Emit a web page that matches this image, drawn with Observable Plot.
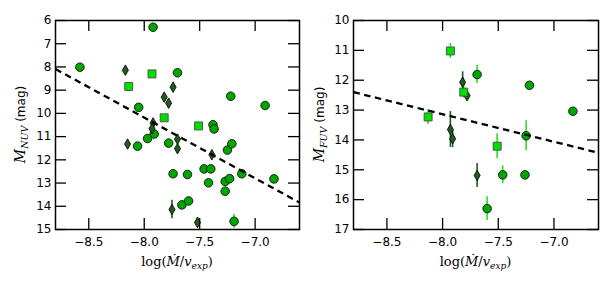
<!DOCTYPE html>
<html>
<head>
<meta charset="utf-8">
<script src="https://cdn.jsdelivr.net/npm/d3@7"></script>
<script src="https://cdn.jsdelivr.net/npm/@observablehq/plot@0.6"></script>
<style>
  html, body { margin: 0; padding: 0; background: #fff; }
  #chart { display: flex; width: 612px; height: 288px; }
  #chart svg { display: block; }
</style>
</head>
<body>
<div id="chart"></div>
<script>
// ---------- shared axis data ----------
const xDomain = [-8.8, -6.6];
const xTicks = [-8.5, -8.0, -7.5, -7.0];
const nuvTicks = [6, 7, 8, 9, 10, 11, 12, 13, 14, 15];
const fuvTicks = [10, 11, 12, 13, 14, 15, 16, 17];

// ---------- left panel: M_NUV ----------
const nuvCircX = [-7.92, -8.58, -7.70, -8.05, -7.22, -6.91, -7.38, -7.37, -7.97, -7.91, -8.06, -7.78, -7.25, -7.21,
                  -7.74, -7.61, -7.46, -7.40, -7.42, -7.27, -7.23, -7.27, -7.12, -6.83, -7.66, -7.60, -7.19];
const nuvCircY = [6.29, 8.01, 8.25, 9.74, 9.26, 9.66, 10.49, 10.67, 11.08, 10.89, 11.41, 11.28, 11.58, 11.31,
                  12.60, 12.63, 12.39, 12.39, 12.99, 12.93, 12.81, 13.35, 12.60, 12.82, 13.94, 13.77, 14.65];
const nuvCircErr = [0, 0, 0, 0, 0, 0, 0, 0, 0, 0, 0, 0, 0, 0,
                    0, 0, 0, 0, 0, 0, 0, 0, 0, 0, 0, 0, 0.3];

const nuvDiamX = [-8.17, -7.74, -7.82, -7.78, -7.92, -7.93, -7.70, -8.15, -7.70, -7.39, -7.75, -7.52];
const nuvDiamY = [8.14, 8.87, 9.30, 9.56, 10.41, 10.66, 11.11, 11.32, 11.52, 11.78, 14.14, 14.70];
const nuvDiamErr = [0, 0, 0, 0, 0.15, 0, 0, 0, 0, 0, 0.4, 0.2];

const nuvSqX = [-8.14, -7.93, -7.82, -7.51];
const nuvSqY = [8.84, 8.30, 10.19, 10.54];
const nuvSqErr = [0, 0, 0, 0];

const fitX = [-8.8, -6.6];
const nuvFitY = [8.09, 13.84];

// ---------- right panel: M_FUV ----------
const fuvCircX = [-7.69, -7.22, -6.83, -7.25, -7.46, -7.26, -7.60];
const fuvCircY = [11.81, 12.17, 13.04, 13.86, 15.17, 15.17, 16.30];
const fuvCircErr = [0.3, 0, 0, 0.5, 0.3, 0, 0.4];

const fuvDiamX = [-7.82, -7.78, -7.93, -7.91, -7.69];
const fuvDiamY = [12.07, 12.52, 13.65, 13.96, 15.19];
const fuvDiamErr = [0.35, 0.1, 0.6, 0.3, 0.4];

const fuvSqX = [-7.93, -7.81, -8.13, -7.51];
const fuvSqY = [11.02, 12.40, 13.23, 14.21];
const fuvSqErr = [0.25, 0.2, 0.25, 0.42];

const fuvFitY = [12.40, 14.43];

// ---------- styles ----------
const circleFill = "#00a600";
const diamondFill = "#1d5c1d";
const squareFill = "#00e000";
const errLight = "#2fd92f";
const errDark = "#1d5c1d";

const rows = (xs, ys, es) => xs.map((x, i) => ({x, y: ys[i], e: es[i]}));

function panel(o) {
  const W = 306, H = 288, mt = 20, mb = 59;
  const fw = W - o.ml - o.mr, fh = H - mt - mb, tick = 11;
  const circles = rows(o.cx, o.cy, o.ce);
  const diamonds = rows(o.dx, o.dy, o.de);
  const squares = rows(o.sx, o.sy, o.se);
  const fit = o.fitX.map((x, i) => ({x, y: o.fitY[i]}));
  const err = (rs, color) => Plot.ruleX(rs.filter(d => d.e > 0), {
    x: "x", y1: d => d.y - d.e, y2: d => d.y + d.e, stroke: color, strokeWidth: 1.6
  });
  const tickStyle = {stroke: "#000", strokeWidth: 1.3};
  const svg = Plot.plot({
    width: W, height: H,
    marginTop: mt, marginBottom: mb, marginLeft: o.ml, marginRight: o.mr,
    style: {fontFamily: "'DejaVu Sans', sans-serif", fontSize: "12px", color: "#000", background: "transparent", overflow: "visible"},
    x: {domain: xDomain, label: null},
    y: {domain: o.yDomain, reverse: true, label: null},
    marks: [
      err(circles, errLight),
      err(squares, errLight),
      err(diamonds, errDark),
      Plot.dot(circles, {x: "x", y: "y", symbol: "circle", r: 4.3, fill: circleFill, stroke: "#000", strokeWidth: 0.8}),
      Plot.dot(diamonds, {x: "x", y: "y", symbol: "diamond", r: 3.2, fill: diamondFill, stroke: "#000", strokeWidth: 0.8}),
      Plot.dot(squares, {x: "x", y: "y", symbol: "square", r: 4.5, fill: squareFill, stroke: "#4a4a4a", strokeWidth: 0.9}),
      Plot.line(fit, {x: "x", y: "y", stroke: "#000", strokeWidth: 2.3, strokeDasharray: "6.5,4.5", strokeLinecap: "butt", clip: true}),
      Plot.ruleX(xTicks, {x: d => d, insetTop: fh - tick, ...tickStyle}),
      Plot.ruleX(xTicks, {x: d => d, insetBottom: fh - tick, ...tickStyle}),
      Plot.ruleY(o.yTicks, {y: d => d, insetRight: fw - tick, ...tickStyle}),
      Plot.ruleY(o.yTicks, {y: d => d, insetLeft: fw - tick, ...tickStyle}),
      Plot.axisX(xTicks, {anchor: "bottom", tickSize: 0, tickPadding: 8, tickFormat: d3.format(".1f"), label: null, fontSize: 12}),
      Plot.axisY(o.yTicks, {anchor: "left", tickSize: 0, tickPadding: 4, tickFormat: d => String(d), label: null, fontSize: 12}),
      Plot.frame({stroke: "#000", strokeWidth: 1.5})
    ]
  });

  const s = d3.select(svg);
  const cx = o.ml + fw / 2;
  // x label: log(Ṁ/v_exp)
  const xl = s.append("text")
    .attr("x", cx).attr("y", 266)
    .attr("text-anchor", "middle")
    .attr("font-family", "'DejaVu Serif', serif")
    .attr("font-size", 13)
    .attr("fill", "#000");
  xl.append("tspan").text("log(");
  xl.append("tspan").attr("font-style", "italic").text("Ṁ");
  xl.append("tspan").text("/");
  xl.append("tspan").attr("font-style", "italic").text("v");
  xl.append("tspan").attr("font-style", "italic").attr("font-size", 9).attr("dy", 3).text("exp");
  xl.append("tspan").attr("dy", -3).text(")");

  // y label: M_sub (mag)
  const yl = s.append("text")
    .attr("transform", `translate(${o.ylx},${mt + fh / 2}) rotate(-90)`)
    .attr("y", 5)
    .attr("text-anchor", "middle")
    .attr("fill", "#000");
  yl.append("tspan").attr("font-family", "'DejaVu Serif', serif").attr("font-style", "italic").attr("font-size", 14).text("M");
  yl.append("tspan").attr("font-family", "'DejaVu Serif', serif").attr("font-style", "italic").attr("font-size", 9.5).attr("dy", 3).text(o.sub);
  yl.append("tspan").attr("font-family", "'DejaVu Sans', sans-serif").attr("font-size", 12).attr("dy", -3).text(" (mag)");
  return svg;
}

const chart = document.getElementById("chart");
chart.appendChild(panel({
  ml: 55, mr: 7, yDomain: [6, 15], yTicks: nuvTicks, sub: "NUV", ylx: 20,
  cx: nuvCircX, cy: nuvCircY, ce: nuvCircErr,
  dx: nuvDiamX, dy: nuvDiamY, de: nuvDiamErr,
  sx: nuvSqX, sy: nuvSqY, se: nuvSqErr,
  fitX: fitX, fitY: nuvFitY
}));
chart.appendChild(panel({
  ml: 47, mr: 14, yDomain: [10, 17], yTicks: fuvTicks, sub: "FUV", ylx: 13,
  cx: fuvCircX, cy: fuvCircY, ce: fuvCircErr,
  dx: fuvDiamX, dy: fuvDiamY, de: fuvDiamErr,
  sx: fuvSqX, sy: fuvSqY, se: fuvSqErr,
  fitX: fitX, fitY: fuvFitY
}));
</script>
</body>
</html>
